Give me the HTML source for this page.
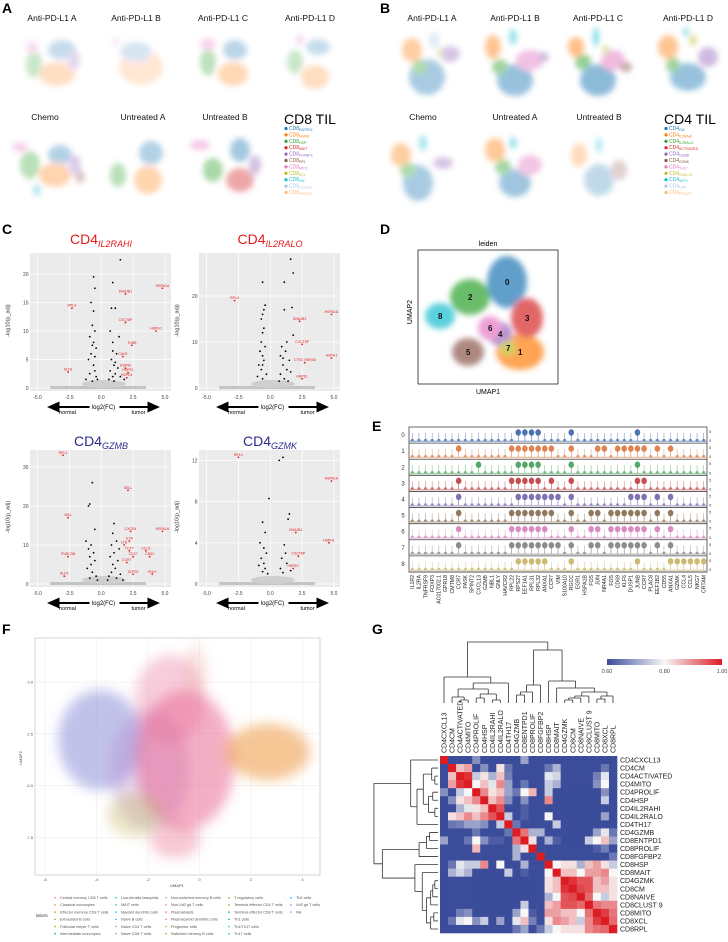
<!DOCTYPE html>
<html><head><meta charset="utf-8"><style>
html,body{margin:0;padding:0;background:#fff;}
svg{display:block;font-family:"Liberation Sans",Arial,sans-serif;}
</style></head><body>
<svg id="fig" width="728" height="942" viewBox="0 0 728 942" xmlns="http://www.w3.org/2000/svg">
<defs>
<filter id="blur3" x="-50%" y="-50%" width="200%" height="200%"><feGaussianBlur stdDeviation="3"/></filter>
<filter id="blur6" x="-50%" y="-50%" width="200%" height="200%"><feGaussianBlur stdDeviation="6"/></filter>
<linearGradient id="cbar" x1="0" x2="1" y1="0" y2="0"><stop offset="0" stop-color="#3b4c9b"/><stop offset="0.5" stop-color="#f7f7f7"/><stop offset="1" stop-color="#dc1c23"/></linearGradient>
</defs>
<g font-weight="bold" font-size="14">
<text x="2" y="13">A</text>
<text x="380" y="13">B</text>
<text x="2" y="234">C</text>
<text x="380" y="234">D</text>
<text x="372" y="431">E</text>
<text x="2" y="634">F</text>
<text x="372" y="634">G</text>
</g>
<g font-size="8.5" text-anchor="middle" fill="#111">
<text x="52" y="21">Anti-PD-L1 A</text>
<text x="136" y="21">Anti-PD-L1 B</text>
<text x="223" y="21">Anti-PD-L1 C</text>
<text x="310" y="21">Anti-PD-L1 D</text>
<text x="45" y="120">Chemo</text>
<text x="143" y="120">Untreated A</text>
<text x="225" y="120">Untreated B</text>
<text x="432" y="21">Anti-PD-L1 A</text>
<text x="515" y="21">Anti-PD-L1 B</text>
<text x="598" y="21">Anti-PD-L1 C</text>
<text x="688" y="21">Anti-PD-L1 D</text>
<text x="423" y="120">Chemo</text>
<text x="515" y="120">Untreated A</text>
<text x="599" y="120">Untreated B</text>
</g>
<text x="284" y="124" font-size="14">CD8 TIL</text>
<text x="664" y="124" font-size="14">CD4 TIL</text>
<g font-size="14">
<text x="101" y="244" text-anchor="middle" fill="#e41a1c">CD4<tspan font-size="9" font-style="italic" dy="3">IL2RAHI</tspan></text>
<text x="270" y="244" text-anchor="middle" fill="#e41a1c">CD4<tspan font-size="9" font-style="italic" dy="3">IL2RALO</tspan></text>
<text x="101" y="446" text-anchor="middle" fill="#2b2b8c">CD4<tspan font-size="9" font-style="italic" dy="3">GZMB</tspan></text>
<text x="270" y="446" text-anchor="middle" fill="#2b2b8c">CD4<tspan font-size="9" font-style="italic" dy="3">GZMK</tspan></text>
</g>
<g id="layer"></g>
</svg>
<script>
// ---------- data ----------
const tab=['#1f77b4','#ff7f0e','#2ca02c','#d62728','#9467bd','#8c564b','#e377c2','#bcbd22','#17becf','#aec7e8','#ffbb78'];
const cd8Types=['ENTPD1','NAIVE','HSP','MAIT','FGFBP2','RPL','MITO','XCL','CM','CLUST9','PROLIF'];
const cd4Types=['CM','IL2RAHI','IL2RALO','ACTIVATED','GZMB','GZMK','TH17','CXCL13','MITO','HSP','PROLIF'];
const v1Black=[[-0.6,19.5],[-0.5,17.5],[-0.8,15],[-0.6,13.5],[0.9,18.5],[1.5,22.5],[0.8,14],[1.1,14],[-0.7,11],[-0.5,10],[-0.9,9],[-0.6,8],[-0.4,7],[-0.8,6],[-1.0,5],[-0.6,4],[-0.5,3],[-0.9,2.5],[-0.4,2],[-1.2,1.5],[0.7,10],[1.4,9],[0.9,8],[1.2,6],[0.8,5],[1.0,4],[1.3,3.5],[0.7,3],[1.1,2.5],[0.9,2],[1.5,2],[0.6,1.5],[1.0,1.2],[1.8,1.5],[-0.3,1.5],[-0.7,1.2],[-0.7,7.5],[-0.5,5.5],[0.9,6.5],[1.1,4.5]];
const v1Red=[[-2.3,14,'RPL4'],[1.9,16.5,'DNAJB1'],[4.8,17.5,'HSPA1A'],[1.9,11.5,'CXCT8P'],[4.3,10,'HSPH1'],[2.4,7.5,'TUBB'],[1.7,5.5,'CALR'],[-2.6,2.8,'KLF6'],[1.9,3.5,'HSP90'],[2.1,2.7,'HSPE1'],[2.0,1.8,'HSPD1']];
const v2Black=[[-0.6,23],[1.1,23],[1.6,28],[1.8,25],[1.7,17.5],[1.1,17],[-0.4,18],[-0.5,17],[-0.6,16],[-0.7,15],[-0.5,13],[-0.6,12],[-0.7,10],[-0.4,9],[-0.8,8],[-0.6,7],[-0.5,6],[-0.9,5],[-0.7,4],[-0.3,3],[-1.0,2.5],[-0.6,2],[1.8,11.5],[1.3,10],[0.9,9],[1.2,8],[0.8,7],[1.5,6],[1.0,5],[1.3,4],[0.8,3],[1.6,3.5],[1.1,2],[0.7,1.5],[1.4,1.5],[-0.6,5],[1.0,6.5]];
const v2Red=[[-2.8,19,'RPL4'],[4.8,16,'HSPA1A'],[2.3,14.5,'DNAJB1'],[2.5,9.5,'CXCT8P'],[4.8,6.5,'HSPH1'],[2.7,5.5,'CTSC HSPA8'],[2.5,2,'HSPE1']];
const v3Black=[[-0.7,26],[-0.9,20.5],[-1.0,20],[-0.5,14],[-1.2,11],[-0.8,10],[-1.0,9],[-0.6,8],[-0.9,7],[-0.5,6],[-0.8,5],[-1.1,4],[-0.7,3],[-0.4,2],[-0.9,1.5],[-0.3,1],[1.0,15.5],[0.9,13],[1.2,11],[0.8,10],[1.4,9],[1.0,8],[0.7,7],[1.3,6],[0.9,5],[1.1,4],[0.8,3],[1.5,2.5],[0.6,2],[1.2,1.5],[1.7,1.0],[0.5,1]];
const v3Red=[[-3,33,'RPL4'],[2.1,24,'SELL'],[-2.6,17,'MAL'],[2.3,13.5,'CXCR4'],[4.8,13.5,'HSPA1A'],[2.2,11,'IL7R'],[1.8,10,'LTB'],[2.2,8.5,'TCF7'],[3.5,8.5,'CCL5'],[-2.6,7,'FNDC3B'],[2.5,7,'CD27'],[3.8,7,'CD52'],[2.0,5.5,'CCR7'],[-2.9,2,'KLF2'],[2.5,2.5,'S1PR1'],[4.0,2.5,'GNLY']];
const v4Black=[[0.7,12],[1.0,12.3],[-0.1,8.3],[-0.6,6],[-0.4,5],[-0.8,4],[-0.5,3.5],[-0.3,3],[-0.7,2.5],[-0.5,2],[-0.9,1.8],[-0.4,1.5],[-0.6,1.2],[-0.2,1],[1.5,6.8],[1.4,6.3],[1.1,3.8],[1.2,3],[0.9,2.5],[1.3,2],[0.8,1.5],[1.6,1.3],[1.0,1.1]];
const v4Red=[[-2.5,12.3,'RPL4'],[4.8,10,'HSPA1A'],[2.0,5,'DNAJB1'],[4.6,4,'HSPH1'],[2.2,2.7,'CXCT8P'],[1.8,1.5,'HSPE1']];
const xTicks=[-5,-2.5,0,2.5,5];
const genes=['IL1R2','IL2RA','TNFRSF9','FOXP3','AC017002.1','GPR18','CMTM8','CCR7','PASK','SPINT2','CXCL13','GZMB','NBL1','GNLY','HAVCR2','RPL22','RPS27','EEF1A1','RPL31','RPL32','ANXA1','CCR7','VIM','S100A10','RGCC','EGR1','HSPA1B','FOS','JUN','NR4A1','FOS','CD69','KLF6','DUSP1','JUNB','CCR7','PLAC8','EEF1B2','CD55','ANXA1','GZMK','CCL4','CCL5','NKG7','CRTAM'];
const leidenColors=['#4c72b0','#dd8452','#55a868','#c44e52','#8172b3','#937860','#da8bc3','#8c8c8c','#ccb974'];
const highGenes=[
[16,17,18,19,24,34],
[7,15,16,17,18,19,20,21,24,28,29,31,32,33,34,35,37,39],
[10,16,17,18,19,24,34],
[7,15,16,17,18,19,21,24,34,35],
[7,16,17,18,19,20,21,22,24,33,34,35,37,39],
[7,15,16,17,18,19,20,21,24,27,28,30,31,32,33,34,35,37,39],
[7,15,16,17,18,19,20,24,27,28,30,31,32,33,34,35,37,39],
[7,15,16,17,18,19,20,21,22,24,27,28,30,31,32,33,34,35,37,39],
[16,17,18,19,20,24,34,39,40,41,42,43,44]];
const hmLabels=['CD4CXCL13','CD4CM','CD4ACTIVATED','CD4MITO','CD4PROLIF','CD4HSP','CD4IL2RAHI','CD4IL2RALO','CD4TH17','CD4GZMB','CD8ENTPD1','CD8PROLIF','CD8FGFBP2','CD8HSP','CD8MAIT','CD4GZMK','CD8CM','CD8NAIVE','CD8CLUST 9','CD8MITO','CD8XCL','CD8RPL'];
const hmValues=[
[1,.6,.6,.6,.68,.6,.6,.6,.6,.6,.7,.6,.6,.6,.6,.6,.6,.6,.6,.6,.6,.6],
[.6,1,.85,.88,.6,.68,.6,.82,.65,.6,.6,.6,.6,.65,.72,.6,.6,.6,.6,.6,.65,.6],
[.6,.85,1,.98,.75,.82,.72,.85,.66,.6,.6,.6,.6,.78,.76,.6,.6,.6,.6,.66,.78,.6],
[.6,.88,.98,1,.8,.85,.78,.9,.7,.6,.65,.6,.6,.75,.72,.6,.6,.6,.6,.68,.8,.6],
[.68,.6,.75,.8,1,.9,.82,.85,.7,.65,.8,.86,.6,.75,.6,.6,.6,.6,.6,.6,.68,.6],
[.6,.68,.82,.85,.9,1,.85,.9,.68,.6,.68,.6,.6,.9,.6,.6,.6,.6,.6,.6,.75,.6],
[.6,.6,.72,.78,.82,.85,1,.95,.6,.6,.62,.6,.6,.6,.6,.6,.6,.6,.6,.6,.6,.6],
[.6,.82,.85,.9,.85,.9,.95,1,.75,.6,.62,.6,.6,.8,.6,.6,.6,.6,.6,.6,.7,.6],
[.6,.65,.66,.7,.7,.68,.6,.75,1,.65,.6,.6,.6,.6,.75,.6,.6,.6,.6,.6,.6,.6],
[.6,.6,.6,.6,.65,.6,.6,.6,.65,1,.92,.72,.72,.6,.6,.6,.6,.6,.6,.7,.78,.65],
[.7,.6,.6,.65,.8,.68,.62,.62,.6,.92,1,.82,.6,.72,.62,.6,.6,.6,.75,.8,.85,.7],
[.6,.6,.6,.6,.86,.6,.6,.6,.6,.72,.82,1,.6,.6,.6,.6,.6,.6,.6,.62,.66,.6],
[.6,.6,.6,.6,.6,.6,.6,.6,.6,.72,.6,.6,1,.6,.6,.6,.6,.6,.6,.6,.6,.65],
[.6,.65,.78,.75,.75,.9,.6,.8,.6,.6,.72,.6,.6,1,.8,.82,.82,.72,.85,.88,.82,.75],
[.6,.72,.76,.72,.6,.6,.6,.6,.75,.6,.62,.6,.6,.8,1,.85,.85,.8,.88,.88,.9,.8],
[.6,.6,.6,.6,.6,.6,.6,.6,.6,.6,.6,.6,.6,.82,.85,1,.98,.95,.95,.85,.88,.82],
[.6,.6,.6,.6,.6,.6,.6,.6,.6,.6,.6,.6,.6,.82,.85,.98,1,.96,.95,.85,.85,.82],
[.6,.6,.6,.6,.6,.6,.6,.6,.6,.6,.6,.6,.6,.72,.8,.95,.96,1,.93,.8,.75,.82],
[.6,.6,.6,.6,.6,.6,.6,.6,.6,.6,.75,.6,.6,.85,.88,.95,.95,.93,1,.92,.9,.9],
[.6,.6,.66,.68,.6,.6,.6,.6,.6,.7,.8,.62,.6,.88,.88,.85,.85,.8,.92,1,.97,.92],
[.6,.65,.78,.8,.68,.75,.6,.7,.6,.78,.85,.66,.6,.82,.9,.88,.85,.75,.9,.97,1,.93],
[.6,.6,.6,.6,.6,.6,.6,.6,.6,.65,.7,.6,.65,.75,.8,.82,.82,.82,.9,.92,.93,1]];
const cbTicks=[0.6,0.8,1.0];
const fLegend=[['Central memory CD8 T cells','Classical monocytes','Effector memory CD8 T cells','Exhausted B cells','Follicular helper T cells','Intermediate monocytes'],['Low-density basophils','MAIT cells','Myeloid dendritic cells','Naive B cells','Naive CD4 T cells','Naive CD8 T cells'],['Non-switched memory B cells','Non-Vd2 gd T cells','Plasmablasts','Plasmacytoid dendritic cells','Progenitor cells','Switched memory B cells'],['T regulatory cells','Terminal effector CD4 T cells','Terminal effector CD8 T cells','Th1 cells','Th1/Th17 cells','Th17 cells'],['Th2 cells','Vd2 gd T cells','NA']];

const NS='http://www.w3.org/2000/svg';
const root=document.getElementById('layer');
function mk(tag,attrs,parent){const e=document.createElementNS(NS,tag);for(const k in attrs)e.setAttribute(k,attrs[k]);(parent||root).appendChild(e);return e;}
function txt(s,attrs,parent){const e=mk('text',attrs,parent);e.textContent=s;return e;}

// ---------- A/B UMAP blobs ----------
const umaps=[
{cx:52,cy:62,op:0.25,b:[[10,-12,14,10,0],[5,12,18,12,1],[-18,2,8,14,2],[-20,-15,6,6,6],[22,-2,6,10,4]]},
{cx:136,cy:62,op:0.18,b:[[5,5,22,18,1],[0,-10,16,10,0],[-20,-20,4,4,6]]},
{cx:223,cy:62,op:0.3,b:[[12,-12,12,10,0],[10,12,15,12,1],[-15,0,8,14,2],[-15,-18,8,6,6]]},
{cx:310,cy:62,op:0.25,b:[[8,-15,12,8,0],[5,15,14,12,1],[-15,0,8,12,2],[-10,-22,4,6,6]]},
{cx:45,cy:165,op:0.33,b:[[15,-10,12,10,0],[10,10,16,12,1],[-15,0,10,14,2],[-25,-18,8,5,6],[30,0,6,10,4],[35,12,5,6,5],[-8,25,4,6,8]]},
{cx:143,cy:165,op:0.33,b:[[8,-12,12,12,0],[5,15,14,14,1],[-25,10,8,12,2]]},
{cx:225,cy:165,op:0.4,b:[[15,-15,10,12,0],[15,15,14,12,3],[-12,5,10,12,2],[-25,-20,10,5,6],[30,0,6,10,4]]},
{cx:432,cy:62,op:0.38,b:[[-20,-12,10,12,1],[-5,15,18,18,0],[-12,5,8,8,2],[18,-8,10,8,4],[2,-22,5,8,9],[8,-10,3,5,7]]},
{cx:515,cy:62,op:0.45,b:[[-22,-15,8,12,1],[0,18,18,16,0],[-15,5,8,8,2],[15,-2,14,10,6],[28,-5,6,5,4],[-2,-25,4,8,8]]},
{cx:598,cy:62,op:0.5,b:[[-22,-15,8,10,1],[0,18,18,16,0],[-15,0,8,8,2],[15,-2,12,10,6],[28,5,6,5,5],[-2,-25,3,10,8],[8,-12,3,5,7]]},
{cx:688,cy:62,op:0.45,b:[[-20,-15,10,12,1],[0,15,18,14,0],[-15,3,7,8,2],[20,-5,10,10,4],[5,-22,4,6,7],[-2,-30,3,5,8]]},
{cx:423,cy:165,op:0.38,b:[[-22,-10,10,12,1],[-5,18,15,18,0],[-15,5,8,8,2],[20,-2,10,6,4],[0,-22,4,8,8]]},
{cx:515,cy:165,op:0.42,b:[[-20,-15,10,12,1],[0,18,16,14,0],[15,0,12,10,6],[-12,2,8,8,2],[-2,-22,4,6,8]]},
{cx:599,cy:165,op:0.27,b:[[-20,-10,8,12,1],[0,15,15,16,0],[20,5,8,10,5],[0,-20,4,8,8]]}];
umaps.forEach((u,i)=>{
  const g=mk('g',{filter:'url(#blur3)',opacity:u.op});
  
  
  u.b.forEach(b=>{
    const e=mk('ellipse',{cx:u.cx+b[0],cy:u.cy+b[1],rx:b[2],ry:b[3],fill:tab[b[4]]},g);
    
    
  });
});
function tilLegend(x,types,prefix){
  types.forEach((t,i)=>{
    const y=130+i*6.4;
    const c=mk('circle',{cx:x,cy:y-1.5,r:1.6,fill:tab[i]});
    
    
    const tx=mk('text',{x:x+3,y:y,'font-size':'5',fill:tab[i]});
    
    
    tx.textContent=prefix;
    const sub=mk('tspan',{'font-size':'3.5',dy:'1'},tx);sub.textContent=t;
  });
}
tilLegend(286,cd8Types,'CD8');
tilLegend(666,cd4Types,'CD4');

// ---------- C volcano ----------
function volcano(name,ox,base,top,yscale,yTicks,black,red){
  const xs=v=>ox+(v+5)*12.75;
  const ys=v=>base-v*yscale;
  const bg=mk('rect',{x:ox-7.5,y:top,width:141,height:base-top+3,fill:'#ebebeb'});
  
  
  xTicks.forEach(t=>{
    const l=mk('line',{x1:xs(t),x2:xs(t),y1:top,y2:base+3,stroke:'#fff','stroke-width':0.7});
    
    
    const lb=txt(t.toFixed(1),{x:xs(t),y:base+11,'font-size':'5','text-anchor':'middle',fill:'#444'});
    
    
  });
  yTicks.forEach(t=>{
    const l=mk('line',{x1:ox-7.5,x2:ox+133.5,y1:ys(t),y2:ys(t),stroke:'#fff','stroke-width':0.7});
    
    
    const lb=txt(String(t),{x:ox-9,y:ys(t)+2,'font-size':'5','text-anchor':'end',fill:'#444'});
    
    
  });
  const band=mk('rect',{x:xs(-4),y:base-2,width:xs(3.5)-xs(-4),height:3,fill:'#c4c4c4'});
  
  
  const band2=mk('ellipse',{cx:xs(0.2),cy:base-4,rx:22,ry:4,fill:'#cfcfcf'});
  
  
  black.forEach(p=>{
    const c=mk('circle',{cx:xs(p[0]),cy:ys(p[1]),r:0.9,fill:'#000'});
    
    
  });
  red.forEach(p=>{
    const c=mk('circle',{cx:xs(p[0]),cy:ys(p[1]),r:0.9,fill:'#e41a1c'});
    
    
    const t=txt(p[2],{x:xs(p[0]),y:ys(p[1])-1.5,'font-size':'3.5','text-anchor':'middle',fill:'#e41a1c'});
    
    
  });
  const yl=txt('-log10(p_adj)',{transform:'translate('+(ox-28)+','+((top+base)/2)+') rotate(-90)','font-size':'5.5','text-anchor':'middle',fill:'#333'});
  
  
  const ay=base+19;
  const la=mk('path',{d:`M${ox+52} ${ay} L${ox+20} ${ay} M${ox+12} ${ay} l9 -4 l0 8 z`,stroke:'#000','stroke-width':2,fill:'#000'});
  
  
  const ra=mk('path',{d:`M${ox+82} ${ay} L${ox+112} ${ay} M${ox+120} ${ay} l-9 -4 l0 8 z`,stroke:'#000','stroke-width':2,fill:'#000'});
  
  
  const xl=txt('log2(FC)',{x:ox+66,y:ay+2,'font-size':'6','text-anchor':'middle'});
  
  
  const nl=txt('normal',{x:ox+30,y:ay+7,'font-size':'5.5','text-anchor':'middle'});
  
  
  const tl=txt('tumor',{x:ox+101,y:ay+7,'font-size':'5.5','text-anchor':'middle'});
  
  
}
volcano('il2rahi',37.5,388,253,5.7,[0,5,10,15,20],v1Black,v1Red);
volcano('il2ralo',206.5,388,253,4.6,[0,10,20],v2Black,v2Red);
volcano('gzmb',37.5,584,450,3.9,[0,10,20,30],v3Black,v3Red);
volcano('gzmk',206.5,584,450,10.3,[0,4,8,12],v4Black,v4Red);

// ---------- D leiden ----------
const leidenClusters=[[507,282,20,26,'0'],[520,352,24,18,'1'],[470,297,20,18,'2'],[527,318,16,20,'3'],[500,334,12,12,'4'],[468,352,16,14,'5'],[490,328,12,12,'6'],[508,348,8,8,'7'],[440,316,15,13,'8']];
const dbox=mk('rect',{x:418,y:250,width:140,height:134,fill:'#fff',stroke:'#222','stroke-width':0.8});


const dg=mk('g',{filter:'url(#blur3)',opacity:0.7});


leidenClusters.forEach(c=>{
  const e=mk('ellipse',{cx:c[0],cy:c[1],rx:c[2],ry:c[3],fill:tab[+c[4]]},dg);
  
  
});
leidenClusters.forEach(c=>{
  const t=txt(c[4],{x:c[0]-2,y:c[1]+3,'font-size':'8','font-weight':'bold',fill:'#111'});
  
  
});
const dt=txt('leiden',{x:488,y:246,'font-size':'7','text-anchor':'middle'});


const dx=txt('UMAP1',{x:488,y:394,'font-size':'7','text-anchor':'middle'});


const dy=txt('UMAP2',{transform:'translate(412,312) rotate(-90)','font-size':'7','text-anchor':'middle'});



// ---------- E violins ----------
const ex0=409,ex1=707,ey0=427,rowH=145/9,gw=(ex1-ex0)/genes.length;
const eb=mk('rect',{x:ex0,y:ey0,width:ex1-ex0,height:145,fill:'#fff',stroke:'#444','stroke-width':0.8});


highGenes.forEach((hs,r)=>{
  const y0=ey0+r*rowH, yb=y0+rowH-2;
  const col=leidenColors[r];
  const sep=mk('line',{x1:ex0,x2:ex1,y1:y0+rowH,y2:y0+rowH,stroke:'#444','stroke-width':0.8});
  
  
  const rl=txt(String(r),{x:ex0-6,y:y0+rowH/2+2,'font-size':'6','text-anchor':'middle',fill:'#333'});
  
  
  const t5=txt('5',{x:ex1+2,y:y0+6,'font-size':'4',fill:'#444'});
  
  
  const t0=txt('0',{x:ex1+2,y:yb+1,'font-size':'4',fill:'#444'});
  
  
  genes.forEach((gname,g)=>{
    const x=ex0+(g+0.5)*gw;
    const hi=hs.indexOf(g)>=0;
    const stem=mk('line',{x1:x,x2:x,y1:hi?y0+2:y0+6,y2:yb,stroke:col,'stroke-width':0.6,opacity:hi?1:0.7});
    
    
    const body=mk('ellipse',{cx:x,cy:hi?y0+5.5:yb-1,rx:hi?2.8:1.6,ry:hi?3.2:1.2,fill:col,opacity:hi?1:0.75});
    
    
  });
  const base=mk('rect',{x:ex0,y:yb-0.5,width:ex1-ex0,height:1.5,fill:col,opacity:0.5});
  
  
});
genes.forEach((gname,g)=>{
  const x=ex0+(g+0.5)*gw;
  const t=txt(gname,{transform:`translate(${x+1.8},575) rotate(-90)`,'font-size':'5.2','text-anchor':'end',fill:'#222'});
  
  
});

// ---------- F UMAP ----------
const fbox=mk('rect',{x:35,y:638,width:285,height:237,fill:'#fff',stroke:'#ccc','stroke-width':0.8});


const fxTicks=[-6,-4,-2,0,2,4];
const fyTicks=['0.0','-2.5','-5.0','-7.5'];
fxTicks.forEach((t,i)=>{
  const x=45+i*51.5;
  const l=mk('line',{x1:x,x2:x,y1:638,y2:875,stroke:'#eee','stroke-width':0.6});
  
  
  const lb=txt(String(t),{x:x,y:881,'font-size':'4','text-anchor':'middle',fill:'#555'});
  
  
});
fyTicks.forEach((t,i)=>{
  const y=682+i*51.8;
  const l=mk('line',{x1:35,x2:320,y1:y,y2:y,stroke:'#eee','stroke-width':0.6});
  
  
  const lb=txt(t,{x:33,y:y+1.5,'font-size':'4','text-anchor':'end',fill:'#555'});
  
  
});
const fBlobs=[[100,740,42,50,'#8e8fd8',0.55],[150,770,40,60,'#b07ac8',0.3],[185,760,50,70,'#e4507e',0.45],[170,700,35,45,'#e8709c',0.35],[268,752,42,28,'#f0a050',0.6],[135,815,28,22,'#b9a840',0.3],[175,840,25,18,'#e86088',0.35],[195,670,12,25,'#f0a8a0',0.3]];
const fg=mk('g',{filter:'url(#blur6)'});


fBlobs.forEach(b=>{
  const e=mk('ellipse',{cx:b[0],cy:b[1],rx:b[2],ry:b[3],fill:b[4],opacity:b[5]},fg);
  
  
});
const fxl=txt('UMAP1',{x:177,y:887,'font-size':'4','text-anchor':'middle',fill:'#444'});


const fyl=txt('UMAP2',{transform:'translate(22,758) rotate(-90)','font-size':'4','text-anchor':'middle',fill:'#444'});


const flab=txt('labels',{x:36,y:917,'font-size':'4.5',fill:'#444'});


const fcols=[60,121,171,234,296];
const fcolors=['#f8766d','#e58700','#c99800','#a3a500','#6bb100','#00ba38','#00bf7d','#00c0af','#00bcd8','#00b0f6','#619cff','#b983ff','#e76bf3','#fd61d1','#ff67a4'];
fLegend.forEach((col,ci)=>{
  col.forEach((s,ri)=>{
    const y=899+ri*7.2;
    const m=mk('circle',{cx:fcols[ci]-5,cy:y-1.3,r:0.8,fill:fcolors[(ci*6+ri)%fcolors.length]});
    
    
    const t=txt(s,{x:fcols[ci],y:y,'font-size':'3.8',fill:'#555'});
    
    
  });
});

// ---------- G heatmap ----------
const hx0=440,hy0=756,cs=177/22;
function hmColor(v){
  const t=Math.max(0,Math.min(1,(v-0.6)/0.4));
  const lo=[59,76,155],mid=[247,247,247],hi=[220,28,35];
  let a,b,f;
  if(t<0.5){a=lo;b=mid;f=t/0.5;}else{a=mid;b=hi;f=(t-0.5)/0.5;}
  return 'rgb('+a.map((c,i)=>Math.round(c+(b[i]-c)*f)).join(',')+')';
}
hmValues.forEach((row,r)=>{
  row.forEach((v,c)=>{
    const e=mk('rect',{x:hx0+c*cs,y:hy0+r*cs,width:cs+0.3,height:cs+0.3,fill:hmColor(v)});
    
    
  });
});
hmLabels.forEach((s,i)=>{
  const rl=txt(s,{x:hx0+177+3,y:hy0+(i+0.5)*cs+2.5,'font-size':'7',fill:'#222'});
  
  
  const cl=txt(s,{transform:`translate(${hx0+(i+0.5)*cs+2.5},${hy0-3}) rotate(-90)`,'font-size':'7',fill:'#222'});
  
  
});
const cb=mk('rect',{x:607,y:659,width:115,height:6,fill:'url(#cbar)'});


cbTicks.forEach(t=>{
  const x=607+(t-0.6)/0.4*115;
  const lb=txt(t.toFixed(2),{x:x,y:673,'font-size':'5.5','text-anchor':'middle',fill:'#444'});
  
  
});
const a=[2,3,3],b=[1,a,6],c=[4,5,5],d=[6,7,3],e=[c,d,9],f=[b,e,14],g=[f,8,20],cd4=[0,g,26];
const h1=[9,10,8],h2=[h1,11,11],h3=[h2,12,18];
const i1=[15,16,3],i2=[i1,17,5],i3=[i2,18,7],i4=[19,20,4],i5=[i4,21,7],i6=[i3,i5,11],i7=[14,i6,15],i8=[13,i7,22];
const tree=[cd4,[h3,i8,53],61];
function dendro(node,path){
  if(typeof node==='number')return {p:(node+0.5)*cs,h:0};
  const L=dendro(node[0],path),R=dendro(node[1],path),H=node[2];
  path.push([L.p,L.h,L.p,H],[L.p,H,R.p,H],[R.p,R.h,R.p,H]);
  return {p:(L.p+R.p)/2,h:H};
}
const segs=[];dendro(tree,segs);
let dTop='',dLeft='';
segs.forEach(s=>{
  dTop+=`M${hx0+s[0]} ${703-s[1]} L${hx0+s[2]} ${703-s[3]} `;
  dLeft+=`M${hx0-2-s[1]*1.05} ${hy0+s[0]} L${hx0-2-s[3]*1.05} ${hy0+s[2]} `;
});
const tp=mk('path',{d:dTop,stroke:'#333','stroke-width':0.8,fill:'none'});


const lp=mk('path',{d:dLeft,stroke:'#333','stroke-width':0.8,fill:'none'});


</script>
</body></html>
